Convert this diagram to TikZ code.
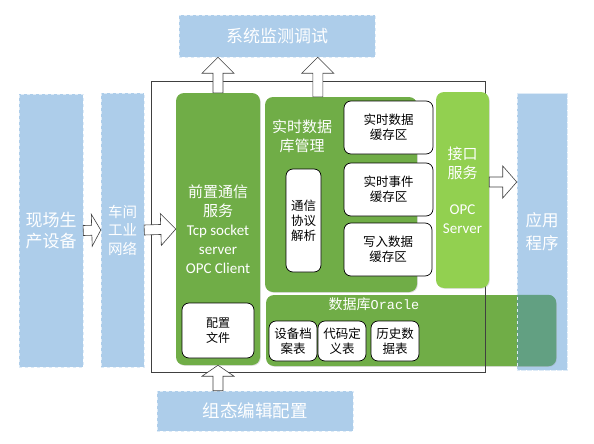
\documentclass[tikz,border=0pt]{standalone}
\usepackage{fontspec}
\setmainfont{Noto Sans CJK SC}
\newfontfamily\latfont{Carlito}
\newfontfamily\monofont{Liberation Mono}
\usepackage{tikz}
\usetikzlibrary{positioning}
\usetikzlibrary{calc,shadows}
\pgfdeclarelayer{background}
\pgfdeclarelayer{foreground}
\pgfsetlayers{background,main,foreground}
\definecolor{bluebox}{HTML}{ADCDEA}
\definecolor{darkgreen}{HTML}{70AD47}
\definecolor{lightgreen}{HTML}{92D050}
\definecolor{mixgreen}{HTML}{62A082}

\begin{document}
\begin{tikzpicture}[x=1pt,y=-1pt,
					bluenode/.style={rectangle, fill=bluebox, draw=white!60!bluebox, dashed, line width=0.5pt, text=white, align=center, inner sep=0pt},
					greennode/.style={rectangle, rounded corners=8pt, fill=darkgreen, text=white, align=center, inner sep=0pt,
						drop shadow={shadow xshift=0.8pt, shadow yshift=-0.8pt, opacity=0.25, fill=black!50}},
					whitenode/.style={rectangle, rounded corners=7pt, draw=black, line width=0.7pt, fill=white, align=center, inner sep=0pt,
						font=\fontsize{12.5}{15}\selectfont},
					framenode/.style={rectangle, draw=black!75, line width=0.7pt, inner sep=0pt},
					blockarrow/.style={draw=black!75, fill=white, line width=0.6pt,
						to path={let \p1=($(\tikztotarget)-(\tikztostart)$), \n1={veclen(\x1,\y1)}, \n2={atan2(\y1,\x1)} in
							{[shift={(\tikztostart)}, rotate=\n2]
							(0pt,5pt) -- (\n1-#1pt,5pt) -- (\n1-#1pt,16pt) -- (\n1,0pt) -- (\n1-#1pt,-16pt) -- (\n1-#1pt,-5pt) -- (0pt,-5pt) -- cycle}}},
					blockarrow/.default=14,
					]
					\useasboundingbox (0,0) rectangle (594,444);
					%Outer blocks
					\node[bluenode, minimum width=64pt, minimum height=273pt, font=\fontsize{17}{21}\selectfont]      (dev) 	at 	(51,230.5)      {现场生\\产设备};
					\node[bluenode, minimum width=43pt, minimum height=274pt, font=\fontsize{14.5}{18.5}\selectfont]  (net) 	at 	(122.5,230)     {车间\\工业\\网络};
					\node[bluenode, minimum width=196pt, minimum height=42pt, font=\fontsize{17}{21}\selectfont]      (mon) 	at 	(277,36)        {系统监测调试};
					\node[bluenode, minimum width=50pt, minimum height=277pt, font=\fontsize{16.5}{23}\selectfont]    (app) 	at 	(542,231.5)     {应用\\程序};
					\node[bluenode, minimum width=196pt, minimum height=40pt, font=\fontsize{17.5}{21}\selectfont]    (cfgedit) at 	(255,411)       {组态编辑配置};

					%Database
					\node[greennode, minimum width=290pt, minimum height=71pt]      (db) 	at 	(411,330.5)     {};
					\begin{scope}
						\clip (app.north west) rectangle (app.south east);
						\fill[mixgreen, rounded corners=8pt] (db.north west) rectangle (db.south east);
					\end{scope}
					\draw[draw=white!60!bluebox, dashed, line width=0.5pt] (app.north west) rectangle (app.south east);
					\node[text=white, font=\fontsize{14}{17}\selectfont]          (dbtitle) at 	(374,304)       {数据库{\monofont\fontsize{13.5}{17}\selectfont Oracle}};

					%Frame
					\node[framenode, minimum width=334pt, minimum height=291pt]    (frame) 	at 	(318,226.5)     {};

					%Service blocks
					\node[greennode, minimum width=84pt, minimum height=272pt, font=\fontsize{15}{19}\selectfont]   (front) 	at 	(218,229)
						{前置通信\\服务\\{\latfont Tcp socket}\\{\latfont server}\\{\latfont OPC Client}};
					\node[greennode, minimum width=152pt, minimum height=195pt]    (rtdb) 	at 	(341,194.5)     {};
					\node[text=white, align=center, font=\fontsize{15}{19}\selectfont] (rtlabel) at (302,136)   {实时数据\\库管理};
					\node[greennode, fill=lightgreen, minimum width=53pt, minimum height=196pt, font=\fontsize{15}{19}\selectfont] (iface) at (462.5,190)
						{接口\\服务\\[17pt]{\latfont OPC}\\{\latfont Server}};

					%Inner boxes
					\node[whitenode, minimum width=89pt, minimum height=53pt]      (buf1) 	at 	(388.5,127.5)   {实时数据\\缓存区};
					\node[whitenode, minimum width=89pt, minimum height=53pt]      (buf2) 	at 	(388.5,189.5)   {实时事件\\缓存区};
					\node[whitenode, minimum width=88pt, minimum height=53pt]      (buf3) 	at 	(388,249.5)     {写入数据\\缓存区};
					\node[whitenode, minimum width=35pt, minimum height=103pt]     (proto) 	at 	(303.5,220.5)   {通信\\协议\\解析};
					\node[whitenode, minimum width=72pt, minimum height=55pt, font=\fontsize{12}{15}\selectfont] (cfgfile) at (218,330.5) {配置\\文件};
					\node[whitenode, minimum width=48pt, minimum height=40pt]      (tab1) 	at 	(293,341)       {设备档\\案表};
					\node[whitenode, minimum width=48pt, minimum height=40pt]      (tab2) 	at 	(342,341)       {代码定\\义表};
					\node[whitenode, minimum width=48pt, minimum height=40pt]      (tab3) 	at 	(395,341)       {历史数\\据表};

					\coordinate (ifout) at ([yshift=8pt]iface.east);

					%Arrows
					\draw[blockarrow=9] (dev.east) to (net.west);
					\draw[blockarrow=15] (net.east) to (front.west);
					\draw[blockarrow=16] (front.north) to (front.north |- mon.south);
					\draw[blockarrow=16] ([xshift=53pt]rtdb.north west) to ([xshift=53pt]rtdb.north west |- mon.south);
					\draw[blockarrow=14] (ifout) to (ifout -| app.west);
					\draw[blockarrow=11] (front.south |- cfgedit.north) to (front.south);
				\end{tikzpicture}
\end{document}
